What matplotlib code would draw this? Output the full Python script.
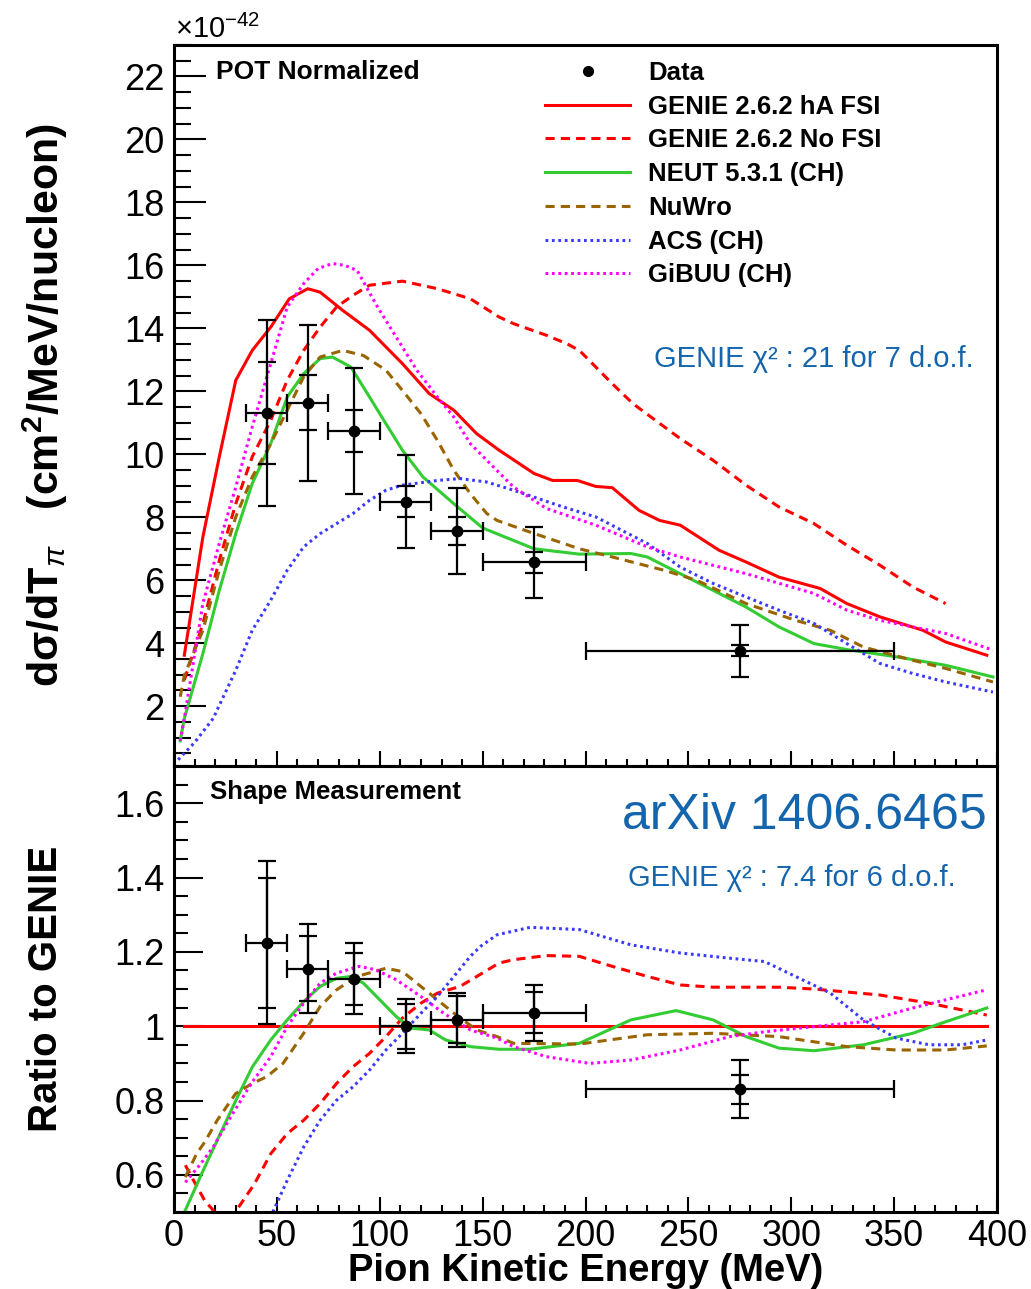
import matplotlib
matplotlib.use('Agg')
import matplotlib.pyplot as plt
from matplotlib import font_manager
from matplotlib.lines import Line2D
from matplotlib.ticker import MultipleLocator, FormatStrFormatter
import numpy as np

# ---- data ----
bin_edges = [35, 55, 75, 100, 125, 150, 200, 350]

xsec = [11.31, 11.64, 10.74, 8.50, 7.57, 6.57, 3.76]
xsec_stat = [1.63, 0.87, 0.66, 0.49, 0.45, 0.34, 0.18]
xsec_tot = [2.96, 2.48, 2.00, 1.48, 1.36, 1.13, 0.82]

ratio = [1.225, 1.155, 1.128, 1.000, 1.017, 1.036, 0.830]
ratio_stat = [0.175, 0.087, 0.070, 0.060, 0.063, 0.055, 0.040]
ratio_tot = [0.220, 0.120, 0.096, 0.073, 0.073, 0.076, 0.078]

# top panel models (T_pi in MeV, dsigma/dT in 1e-42)
genie_e = [5, 14, 22, 30, 38, 47, 56, 65, 71, 82, 95, 111, 124, 136, 147, 158, 175, 184, 196,
           205, 213, 226, 236, 246, 265, 278, 294, 314, 327, 343, 364, 375, 395]
genie_y = [3.62, 7.37, 9.92, 12.35, 13.3, 14.04, 14.94, 15.26, 15.15, 14.57, 13.94, 12.88, 11.93,
           11.4, 10.66, 10.13, 9.39, 9.17, 9.17, 8.98, 8.94, 8.22, 7.9, 7.75, 6.95, 6.58, 6.1, 5.74,
           5.26, 4.84, 4.41, 4.04, 3.62]

nofsi_e = [5, 14, 22, 30, 38, 47, 55, 63, 71, 79, 87, 95, 111, 128, 144, 158, 165, 181, 191, 197,
           205, 213, 223, 246, 262, 278, 294, 311, 327, 343, 359, 375]
nofsi_y = [2.83, 4.62, 6.63, 8.43, 9.92, 11.08, 12.35, 13.3, 14.04, 14.68, 15.05, 15.37, 15.5,
           15.26, 14.94, 14.36, 14.15, 13.78, 13.51, 13.3, 12.77, 12.24, 11.61, 10.5, 9.81, 9.02,
           8.33, 7.8, 7.11, 6.48, 5.79, 5.26]

neut_e = [3, 5, 14, 22, 30, 38, 47, 55, 63, 71, 77, 86, 95, 103, 111, 121, 136, 150, 175, 197,
          222, 230, 246, 262, 278, 294, 311, 327, 351, 375, 398]
neut_y = [0.9, 1.61, 3.67, 5.68, 7.48, 9.07, 10.34, 11.82, 12.56, 13.04, 13.09, 12.77, 11.82,
          10.97, 10.13, 9.28, 8.43, 7.66, 7.0, 6.83, 6.85, 6.74, 6.21, 5.68, 5.15, 4.52, 3.99,
          3.8, 3.57, 3.3, 2.93]

nuwro_e = [3, 5, 14, 22, 30, 38, 47, 55, 63, 71, 82, 92, 103, 111, 120, 128, 136, 144, 152, 157,
           173, 197, 213, 238, 254, 278, 302, 319, 335, 359, 375, 398]
nuwro_y = [2.3, 2.98, 4.41, 6.32, 8.01, 9.28, 10.34, 11.4, 12.46, 13.09, 13.3, 13.14, 12.67,
           12.03, 11.29, 10.44, 9.49, 8.75, 8.12, 7.9, 7.53, 7.0, 6.74, 6.32, 6.0, 5.26, 4.73,
           4.41, 3.88, 3.46, 3.2, 2.77]

acs_e = [2, 10, 19, 30, 38, 47, 55, 63, 71, 79, 87, 95, 103, 111, 128, 139, 152, 165, 189, 205,
         230, 246, 262, 278, 294, 311, 327, 343, 359, 375, 398]
acs_y = [0.3, 0.85, 1.61, 3.14, 4.41, 5.37, 6.32, 7.06, 7.48, 7.8, 8.12, 8.54, 8.86, 9.02, 9.17,
         9.23, 9.12, 8.86, 8.33, 8.01, 7.17, 6.42, 5.9, 5.47, 5.05, 4.63, 3.99, 3.36, 3.04, 2.77,
         2.45]

gibuu_e = [3, 5, 14, 22, 30, 38, 47, 55, 63, 70, 77, 83, 89, 98, 108, 118, 128, 136, 144, 152,
           165, 181, 205, 230, 246, 278, 311, 327, 343, 359, 375, 398]
gibuu_y = [0.9, 1.61, 5.26, 7.17, 8.96, 10.87, 12.88, 14.68, 15.42, 15.9, 16.06, 16.0, 15.84,
           14.78, 13.72, 12.67, 11.82, 11.18, 10.34, 9.81, 8.96, 8.28, 7.75, 7.06, 6.74, 6.21,
           5.58, 5.05, 4.73, 4.52, 4.31, 3.78]

# bottom panel: ratio to GENIE
r_genie_e = [5, 395]
r_genie_y = [1.0, 1.0]

r_nofsi_e = [5.5, 9, 15, 19, 25, 31, 39, 47, 55, 63, 71, 79, 87, 95, 103, 111, 120, 128, 139,
             149, 158, 165, 181, 197, 213, 230, 246, 262, 294, 311, 343, 367, 395]
r_nofsi_y = [0.626, 0.59, 0.53, 0.505, 0.47, 0.51, 0.575, 0.657, 0.711, 0.747, 0.792, 0.846,
             0.891, 0.927, 0.972, 1.022, 1.062, 1.089, 1.107, 1.14, 1.17, 1.179, 1.19, 1.188,
             1.161, 1.134, 1.111, 1.105, 1.105, 1.1, 1.084, 1.062, 1.03]

r_neut_e = [5.5, 14, 22, 30, 38, 47, 55, 63, 71, 79, 86, 92, 100, 108, 115, 124, 132, 144, 158,
            173, 197, 222, 244, 262, 278, 294, 311, 335, 359, 375, 395]
r_neut_y = [0.505, 0.61, 0.705, 0.8, 0.89, 0.963, 1.017, 1.066, 1.107, 1.129, 1.134, 1.116,
            1.071, 1.026, 0.995, 0.99, 0.963, 0.945, 0.938, 0.938, 0.954, 1.017, 1.042, 1.017,
            0.972, 0.941, 0.934, 0.95, 0.981, 1.012, 1.049]

r_nuwro_e = [5.5, 11, 15, 21, 30, 38, 45, 53, 63, 71, 79, 89, 103, 111, 124, 136, 147, 157, 165,
             197, 230, 262, 294, 327, 351, 375, 395]
r_nuwro_y = [0.594, 0.657, 0.689, 0.747, 0.819, 0.846, 0.864, 0.9, 0.981, 1.053, 1.098, 1.134,
             1.156, 1.147, 1.089, 1.035, 0.99, 0.972, 0.954, 0.952, 0.977, 0.981, 0.972, 0.945,
             0.936, 0.936, 0.947]

r_acs_e = [48, 55, 63, 71, 79, 87, 95, 103, 111, 120, 128, 136, 144, 149, 157, 173, 197, 222,
           246, 270, 287, 302, 319, 335, 351, 367, 383, 395]
r_acs_y = [0.5, 0.585, 0.675, 0.747, 0.801, 0.837, 0.882, 0.936, 0.981, 1.035, 1.08, 1.134,
           1.188, 1.215, 1.246, 1.266, 1.26, 1.219, 1.197, 1.183, 1.174, 1.134, 1.089, 1.017,
           0.968, 0.95, 0.95, 0.963]

r_gibuu_e = [5.5, 13, 19, 28, 38, 47, 55, 63, 71, 79, 90, 98, 108, 120, 131, 144, 157, 165, 181,
             202, 222, 246, 270, 287, 311, 335, 359, 375, 395]
r_gibuu_y = [0.58, 0.63, 0.675, 0.76, 0.85, 0.918, 0.999, 1.062, 1.116, 1.143, 1.161, 1.152,
             1.125, 1.08, 1.035, 0.99, 0.968, 0.945, 0.918, 0.9, 0.909, 0.936, 0.972, 0.985,
             0.999, 1.012, 1.049, 1.071, 1.098]

labels = ['Data', 'GENIE 2.6.2 hA FSI', 'GENIE 2.6.2 No FSI', 'NEUT 5.3.1 (CH)', 'NuWro',
          'ACS (CH)', 'GiBUU (CH)']

# ---- styles ----
RED = '#ff0000'
GREEN = '#33cc33'
BROWN = '#9a6400'
BLUE = '#3a3aff'
MAGENTA = '#ff00ff'
TXTBLUE = '#1565ad'
LW = 2.2

styles = {
    'genie': dict(color=RED, lw=LW, ls='-'),
    'nofsi': dict(color=RED, lw=LW, ls=(0, (3.0, 2.0))),
    'neut': dict(color=GREEN, lw=LW, ls='-'),
    'nuwro': dict(color=BROWN, lw=LW, ls=(0, (3.0, 2.0))),
    'acs': dict(color=BLUE, lw=LW, ls=(0, (0.9, 1.2))),
    'gibuu': dict(color=MAGENTA, lw=LW, ls=(0, (0.9, 1.2))),
}

available = {f.name for f in font_manager.fontManager.ttflist}
NARROW = 'Liberation Sans Narrow' if 'Liberation Sans Narrow' in available else 'Liberation Sans'
narrow = NARROW != 'Liberation Sans'

plt.rcParams['font.family'] = ['Liberation Sans', 'DejaVu Sans']
plt.rcParams['mathtext.fontset'] = 'custom'
plt.rcParams['mathtext.rm'] = 'Liberation Sans'
plt.rcParams['mathtext.it'] = 'Liberation Sans:italic'
plt.rcParams['mathtext.bf'] = 'Liberation Sans:bold'

edges = np.array(bin_edges, dtype=float)
centers = 0.5 * (edges[1:] + edges[:-1])
halfw = 0.5 * (edges[1:] - edges[:-1])

fig = plt.figure(figsize=(10.31, 12.89), dpi=100)
ax1 = fig.add_axes([0.1688, 0.4057, 0.7983, 0.5594])
ax2 = fig.add_axes([0.1688, 0.0597, 0.7983, 0.3460])

# top panel
ax1.plot(genie_e, genie_y, **styles['genie'])
ax1.plot(nofsi_e, nofsi_y, **styles['nofsi'])
ax1.plot(neut_e, neut_y, **styles['neut'])
ax1.plot(nuwro_e, nuwro_y, **styles['nuwro'])
ax1.plot(acs_e, acs_y, **styles['acs'])
ax1.plot(gibuu_e, gibuu_y, **styles['gibuu'])

eb = dict(color='k', ecolor='k', elinewidth=1.6, capthick=1.6, capsize=6.5)
ax1.errorbar(centers, xsec, xerr=halfw, yerr=xsec_tot, fmt='o', ms=7.5, zorder=5, **eb)
ax1.errorbar(centers, xsec, yerr=xsec_stat, fmt='none', zorder=5, **eb)

# bottom panel
ax2.plot(r_genie_e, r_genie_y, **styles['genie'])
ax2.plot(r_nofsi_e, r_nofsi_y, **styles['nofsi'])
ax2.plot(r_neut_e, r_neut_y, **styles['neut'])
ax2.plot(r_nuwro_e, r_nuwro_y, **styles['nuwro'])
ax2.plot(r_acs_e, r_acs_y, **styles['acs'])
ax2.plot(r_gibuu_e, r_gibuu_y, **styles['gibuu'])
ax2.errorbar(centers, ratio, xerr=halfw, yerr=ratio_tot, fmt='o', ms=7.5, zorder=5, **eb)
ax2.errorbar(centers, ratio, yerr=ratio_stat, fmt='none', zorder=5, **eb)

for ax in (ax1, ax2):
    ax.set_xlim(0, 400)
    ax.xaxis.set_major_locator(MultipleLocator(50))
    ax.xaxis.set_minor_locator(MultipleLocator(10))
    for s in ax.spines.values():
        s.set_linewidth(2.2)
    ax.tick_params(axis='x', which='major', direction='in', length=11, width=1.5, top=False)
    ax.tick_params(axis='x', which='minor', direction='in', length=5, width=1.5, top=False)

ax1.set_ylim(0.1, 23)
ax1.yaxis.set_major_locator(MultipleLocator(2))
ax1.yaxis.set_minor_locator(MultipleLocator(0.5))
ax1.tick_params(axis='y', which='major', direction='in', length=23, width=1.5, labelsize=26,
                pad=7, right=False)
ax1.tick_params(axis='y', which='minor', direction='in', length=12, width=1.5, right=False)
ax1.tick_params(axis='x', labelbottom=False)

ax2.set_ylim(0.5, 1.7)
ax2.yaxis.set_major_locator(MultipleLocator(0.2))
ax2.yaxis.set_minor_locator(MultipleLocator(0.05))
ax2.yaxis.set_major_formatter(FormatStrFormatter('%g'))
ax2.tick_params(axis='y', which='major', direction='in', length=21, width=1.5, labelsize=26,
                pad=7, right=False)
ax2.tick_params(axis='y', which='minor', direction='in', length=10, width=1.5, right=False)
ax2.tick_params(axis='x', which='major', labelsize=31 if narrow else 26, pad=5)
for t in ax2.get_xticklabels():
    t.set_fontfamily(NARROW)

# axis titles
lab_sz = 37 if narrow else 31
ax1.set_ylabel('dσ/dT$_{\\pi}$   (cm$^{\\mathbf{2}}$/MeV/nucleon)', fontsize=lab_sz,
               fontweight='bold', family=NARROW)
ax1.yaxis.set_label_coords(-0.127, 0.5)
ax2.set_ylabel('Ratio to GENIE', fontsize=35 if narrow else 29, fontweight='bold', family=NARROW)
ax2.yaxis.set_label_coords(-0.133, 0.5)
ax2.set_xlabel('Pion Kinetic Energy (MeV)', fontsize=33 if narrow else 27.5, fontweight='bold',
               family=NARROW)
ax2.xaxis.set_label_coords(0.5, -0.092)

fig.text(0.17, 0.9705, '×10$^{-42}$', fontsize=21, ha='left', va='baseline')

# annotations
ax1.text(0.051, 0.953, 'POT Normalized', transform=ax1.transAxes, fontsize=19,
         fontweight='bold', va='baseline')
ax1.text(0.7776, 0.553, 'GENIE χ² : 21 for 7 d.o.f.', transform=ax1.transAxes, fontsize=21,
         color=TXTBLUE, ha='center', va='baseline')
ax2.text(0.0437, 0.926, 'Shape Measurement', transform=ax2.transAxes, fontsize=18.5,
         fontweight='bold', va='baseline')
ax2.text(0.987, 0.859, 'arXiv 1406.6465', transform=ax2.transAxes, fontsize=36,
         color=TXTBLUE, ha='right', va='baseline')
ax2.text(0.751, 0.731, 'GENIE χ² : 7.4 for 6 d.o.f.', transform=ax2.transAxes, fontsize=21,
         color=TXTBLUE, ha='center', va='baseline')

# legend
handles = [Line2D([], [], color='k', marker='o', ls='none', ms=7)]
for key in ['genie', 'nofsi', 'neut', 'nuwro', 'acs', 'gibuu']:
    handles.append(Line2D([], [], **styles[key]))
ax1.legend(handles, labels, loc='upper left', bbox_to_anchor=(0.451, 0.978), frameon=False,
           prop={'weight': 'bold', 'size': 18.5}, handlelength=3.3, handletextpad=0.7,
           labelspacing=0.38, borderpad=0, borderaxespad=0, numpoints=1)

fig.savefig('out.png', dpi=100)
